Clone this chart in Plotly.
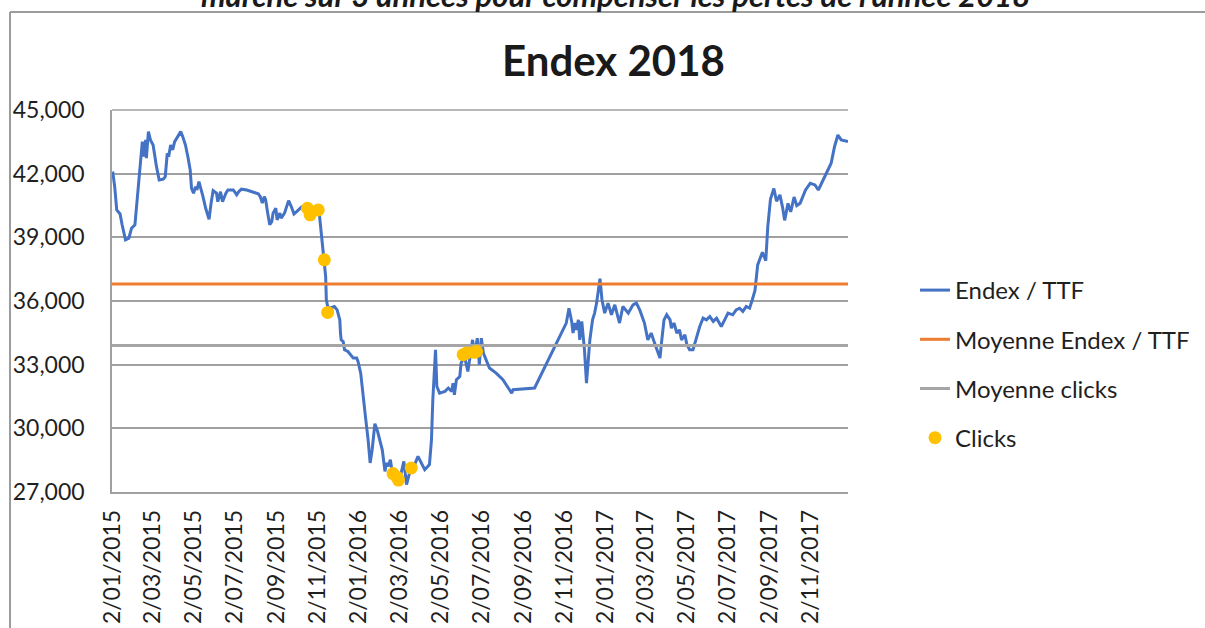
import plotly.graph_objects as go

# ---------------- data ----------------
endex_dates = [
    "2015-01-02","2015-01-05","2015-01-08","2015-01-13","2015-01-16","2015-01-21","2015-01-26","2015-01-30",
    "2015-02-04","2015-02-09","2015-02-11","2015-02-15","2015-02-17","2015-02-20","2015-02-21","2015-02-24",
    "2015-02-27","2015-03-03","2015-03-08","2015-03-12","2015-03-18","2015-03-21","2015-03-24","2015-03-26",
    "2015-03-29","2015-04-01","2015-04-04","2015-04-09","2015-04-13","2015-04-16","2015-04-20","2015-04-24",
    "2015-04-27","2015-04-29","2015-05-02","2015-05-05","2015-05-07","2015-05-10","2015-05-13","2015-05-16",
    "2015-05-20","2015-05-25","2015-05-28","2015-05-31","2015-06-05","2015-06-07","2015-06-11","2015-06-14",
    "2015-06-19","2015-06-22","2015-06-30","2015-07-05","2015-07-08","2015-07-12","2015-07-20","2015-07-29",
    "2015-08-06","2015-08-09","2015-08-12","2015-08-15","2015-08-17","2015-08-20","2015-08-23","2015-08-26",
    "2015-08-28","2015-09-01","2015-09-03","2015-09-07","2015-09-09","2015-09-14","2015-09-18","2015-09-20",
    "2015-09-24","2015-09-28","2015-10-02","2015-10-05","2015-10-09","2015-10-14","2015-10-19","2015-10-26",
    "2015-11-03","2015-11-05","2015-11-08","2015-11-11","2015-11-14","2015-11-15","2015-11-17","2015-11-20",
    "2015-11-27","2015-12-01","2015-12-05","2015-12-06","2015-12-07","2015-12-10","2015-12-12","2015-12-17",
    "2015-12-21","2015-12-25","2015-12-30",
    "2016-01-01","2016-01-05","2016-01-08","2016-01-12","2016-01-16","2016-01-19","2016-01-22","2016-01-26",
    "2016-01-30","2016-02-02","2016-02-06","2016-02-10","2016-02-12","2016-02-15","2016-02-18","2016-02-21",
    "2016-02-24","2016-02-29","2016-03-05","2016-03-09","2016-03-13","2016-03-18","2016-03-23","2016-03-30",
    "2016-04-04","2016-04-09","2016-04-16","2016-04-19","2016-04-21","2016-04-25","2016-04-27","2016-05-01",
    "2016-05-09","2016-05-14","2016-05-19","2016-05-21","2016-05-23","2016-05-26","2016-05-31","2016-06-02",
    "2016-06-07","2016-06-12","2016-06-15","2016-06-19","2016-06-22","2016-06-26","2016-06-29","2016-07-02",
    "2016-07-05","2016-07-10","2016-07-14","2016-07-24","2016-08-03","2016-08-11","2016-08-16","2016-08-18",
    "2016-09-19","2016-11-05","2016-11-09","2016-11-13","2016-11-15","2016-11-18","2016-11-20","2016-11-23",
    "2016-11-25","2016-11-28","2016-11-30","2016-12-02","2016-12-05","2016-12-07","2016-12-10","2016-12-14",
    "2016-12-17","2016-12-20","2016-12-23","2016-12-25","2016-12-28",
    "2017-01-01","2017-01-06","2017-01-11","2017-01-16","2017-01-23","2017-01-28","2017-02-05","2017-02-12",
    "2017-02-17","2017-02-22","2017-03-01","2017-03-06","2017-03-11","2017-03-16","2017-03-21","2017-03-24",
    "2017-03-26","2017-03-30","2017-04-03","2017-04-08","2017-04-10","2017-04-14","2017-04-18","2017-04-22",
    "2017-04-25","2017-04-30","2017-05-03","2017-05-07","2017-05-12","2017-05-17","2017-05-22","2017-05-27",
    "2017-06-01","2017-06-06","2017-06-11","2017-06-16","2017-06-23","2017-06-28","2017-07-03","2017-07-10",
    "2017-07-15","2017-07-20","2017-07-25","2017-07-30","2017-08-04","2017-08-08","2017-08-12","2017-08-16",
    "2017-08-19","2017-08-23","2017-08-28","2017-08-31","2017-09-04","2017-09-09","2017-09-13","2017-09-18",
    "2017-09-22","2017-09-25","2017-09-30","2017-10-04","2017-10-09","2017-10-13","2017-10-18","2017-10-26",
    "2017-11-02","2017-11-09","2017-11-14","2017-11-21","2017-11-26","2017-12-03","2017-12-08","2017-12-13",
    "2017-12-18","2017-12-28",
]
endex_values = [
    42100,41390,40290,40100,39590,38880,38960,39430,
    39590,41230,41860,43510,42800,43590,42730,43980,
    43590,43350,42330,41700,41740,41860,42960,42800,
    43350,43120,43510,43740,43980,43740,43350,42730,
    42180,41310,41080,41390,41230,41620,41310,40920,
    40370,39850,40610,41200,41080,40680,41150,40680,
    41080,41230,41230,41000,41150,41270,41230,41150,
    41050,40920,40610,40920,40760,40140,39590,39740,
    40140,40370,39820,40140,39900,40140,40530,40730,
    40450,40100,40210,40290,40420,40330,40330,40260,
    40210,39980,39040,38090,37150,36060,35740,35660,
    35740,35580,35110,34490,34170,34090,33700,33620,
    33470,33310,33310,
    33150,32600,31580,30560,29460,28370,28990,30220,
    29860,29460,28990,27970,28370,28210,28520,27890,
    27580,27500,27890,28440,27350,27970,28130,28680,
    28370,28050,28290,29460,31350,33700,31970,31660,
    31740,31900,31740,32130,31580,32290,32440,33080,
    33390,32680,33310,34170,33470,34250,33000,34250,
    33550,33150,32840,32600,32290,31900,31660,31820,
    31900,34960,35660,35040,34490,34960,34640,35110,
    34170,35040,34490,33700,32130,32920,34170,35110,
    35430,35900,36600,37050,36060,
    35430,35900,35350,35820,34960,35740,35430,35820,
    35900,35580,34960,34170,34490,34020,33550,33310,
    33940,35110,35350,35110,34720,34960,34490,34640,
    34170,34410,33940,33700,33700,34250,34800,35190,
    35110,35270,35040,35190,34800,35110,35430,35350,
    35580,35660,35510,35740,35660,36060,36500,37700,
    38000,38300,37900,39500,40800,41300,40700,41000,
    40400,39800,40600,40200,40900,40500,40610,41230,
    41550,41470,41230,41700,42020,42490,43270,43820,
    43590,43510,
]

clicks_dates = ["2015-10-18", "2015-10-22", "2015-11-03", "2015-11-12", "2015-11-17",
                "2016-02-22", "2016-02-28", "2016-03-01", "2016-03-20",
                "2016-06-05", "2016-06-10", "2016-06-21", "2016-06-25"]
clicks_values = [40370, 40060, 40290, 37940, 35460,
                 27870, 27700, 27560, 28130,
                 33470, 33550, 33580, 33620]

moyenne_endex = 36800
moyenne_clicks = 33900
period = ["2015-01-01", "2017-12-28"]

tick_dates = ["2015-01-02","2015-03-02","2015-05-02","2015-07-02","2015-09-02","2015-11-02",
              "2016-01-02","2016-03-02","2016-05-02","2016-07-02","2016-09-02","2016-11-02",
              "2017-01-02","2017-03-02","2017-05-02","2017-07-02","2017-09-02","2017-11-02"]
tick_labels = ["2/01/2015","2/03/2015","2/05/2015","2/07/2015","2/09/2015","2/11/2015",
               "2/01/2016","2/03/2016","2/05/2016","2/07/2016","2/09/2016","2/11/2016",
               "2/01/2017","2/03/2017","2/05/2017","2/07/2017","2/09/2017","2/11/2017"]
y_ticks = [27000, 30000, 33000, 36000, 39000, 42000, 45000]

# ---------------- figure ----------------
FONT = "Lato"
W, H = 1205, 628
PL, PR, PT, PB = 112, 848, 110, 492   # plot area in window pixels
L, T, R, B = PL, PT, W - PR, H - PB
PW, PH = PR - PL, PB - PT

def px(x):
    return (x - PL) / PW

def py(y):
    return (PB - y) / PH

fig = go.Figure()
fig.add_trace(go.Scatter(x=endex_dates, y=endex_values, mode="lines", name="Endex / TTF",
                         line=dict(color="#4472C4", width=3), legendgroup="a"))
fig.add_trace(go.Scatter(x=period, y=[moyenne_endex, moyenne_endex], mode="lines",
                         name="Moyenne Endex / TTF", line=dict(color="#ED7D31", width=3),
                         legendgroup="b"))
fig.add_trace(go.Scatter(x=period, y=[moyenne_clicks, moyenne_clicks], mode="lines",
                         name="Moyenne clicks", line=dict(color="#A5A5A5", width=3),
                         legendgroup="c"))
fig.add_trace(go.Scatter(x=clicks_dates, y=clicks_values, mode="markers", name="Clicks",
                         marker=dict(color="#FFC000", size=13), legendgroup="d"))

frame = dict(color="#9C9C9C", width=2)
fig.update_layout(
    width=W, height=H,
    margin=dict(l=L, r=R, t=T, b=B, autoexpand=False),
    paper_bgcolor="white", plot_bgcolor="white",
    font=dict(family=FONT, color="#1f1f1f"),
    showlegend=True,
    legend=dict(x=px(915), y=py(364), xanchor="left", yanchor="middle",
                font=dict(size=24, family=FONT, color="#1f1f1f"),
                tracegroupgap=15, traceorder="grouped", bgcolor="rgba(0,0,0,0)"),
    xaxis=dict(type="date", range=period, tickvals=tick_dates, ticktext=tick_labels,
               tickangle=-90, tickfont=dict(size=23, family=FONT, color="#1f1f1f"),
               showgrid=False, zeroline=False, showline=True, linecolor="#A0A0A0", linewidth=1.5,
               ticks="", ticklabelstandoff=7, automargin=False),
    yaxis=dict(range=[27000, 45000], tickvals=y_ticks, tickformat=",d",
               tickfont=dict(size=23, family=FONT, color="#1f1f1f"),
               showgrid=True, gridcolor="#A0A0A0", gridwidth=1.5, zeroline=False,
               showline=True, linecolor="#A0A0A0", linewidth=1.5,
               ticks="", ticklabelstandoff=21, automargin=False),
    shapes=[dict(type="line", xref="paper", yref="paper", x0=px(10), y0=py(12), x1=px(1230), y1=py(12),
                 line=frame, layer="below"),
            dict(type="line", xref="paper", yref="paper", x0=px(10), y0=py(12), x1=px(10), y1=py(660),
                 line=frame, layer="below"),
            dict(type="line", xref="paper", yref="paper", x0=0, x1=1, y0=1, y1=1,
                 line=dict(color="#A0A0A0", width=1.5))],
    annotations=[
        dict(text="<b>Endex 2018</b>", xref="paper", yref="paper", x=px(613), y=py(60),
             xanchor="center", yanchor="middle", showarrow=False,
             font=dict(size=42, family=FONT, color="#1a1a1a")),
        dict(text="<b><i>marché sur 3 années pour compenser les pertes de l'année 2018</i></b>",
             xref="paper", yref="paper", x=px(615), y=py(-5),
             xanchor="center", yanchor="middle", showarrow=False,
             font=dict(size=31, family=FONT, color="#1a1a1a")),
    ],
)

page_css = ("document.body.style.margin='0';"
            "document.body.style.overflow='hidden';"
            "document.documentElement.style.overflow='hidden';")
fig.write_html("out.html", post_script=page_css, config={"displayModeBar": False})
